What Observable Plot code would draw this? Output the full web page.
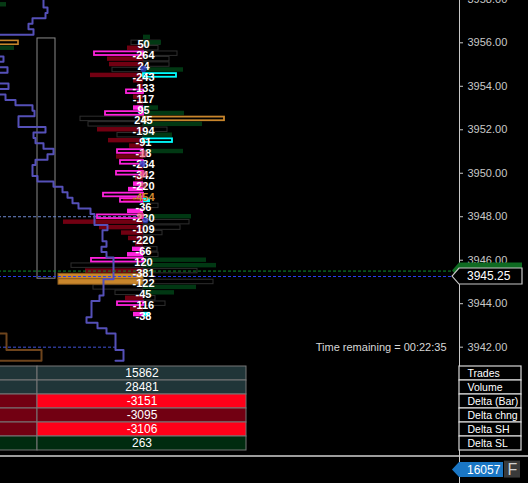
<!DOCTYPE html>
<html><head><meta charset="utf-8">
<script src="https://cdn.jsdelivr.net/npm/d3@7"></script>
<script src="https://cdn.jsdelivr.net/npm/@observablehq/plot@0.6"></script>
<style>
html,body{margin:0;padding:0;background:#000;overflow:hidden}
#wrap{position:relative;width:528px;height:483px;overflow:hidden}
#wrap > svg{position:absolute;left:0;top:0}
#wrap > svg.table{top:365px}
g[aria-label="delta labels"] text{letter-spacing:-0.3px}
</style></head><body><div id="wrap"></div>
<script>
// ---------- DATA ----------
// footprint of the current bar: [price level, size]
const sellDelta = [[3955.75,16],[3955.25,36],[3955.0,34],[3954.5,53],[3954.25,10],[3954.0,6],[3953.5,10],[3953.25,6],[3952.0,46],[3951.5,35],[3951.25,14],[3950.75,27],[3950.25,5],[3949.75,8],[3948.75,20],[3947.75,80],[3947.5,44],[3947.25,22],[3947.0,15],[3946.75,8],[3945.5,58],[3944.25,18],[3943.75,13]];
const buyDelta = [[3956.25,7],[3956.0,18],[3954.75,40],[3953.0,15],[3952.75,41],[3952.25,59],[3951.75,29],[3951.0,40],[3948.0,48],[3946.0,63],[3945.75,73],[3944.75,53],[3944.5,31]];
// volume outline per level: [price, bid side, ask side]
const volumeBox = [[3956.0,-12,17],[3955.75,0,15],[3955.5,0,34],[3955.25,0,26],[3955.0,0,26],[3954.75,-31,0],[3952.5,-63,0],[3952.25,-55,0],[3952.0,0,24],[3951.75,-26,0],[3948.5,0,15],[3947.75,0,46],[3947.5,0,37],[3947.25,0,19],[3947.0,0,7],[3946.5,0,14],[3946.25,0,15],[3945.75,-72,0],[3945.5,0,54],[3945.0,0,70],[3944.75,-50,0],[3944.5,-28,0],[3944.25,0,12],[3944.0,0,22]];
// imbalances
const sellImbalance = [[3955.5,49],[3953.75,17],[3952.75,38],[3951.0,26],[3950.5,23],[3950.0,27],[3949.0,40],[3948.75,23],[3948.0,46],[3946.0,52],[3944.0,26]];
const sellImbalanceStrong = [[3953.0,10],[3949.5,10],[3949.25,15],[3948.25,16],[3946.5,11],[3946.25,16],[3943.5,10]];
const buyImbalance = [[3954.5,33],[3951.5,29]];
const buyImbalanceStrong = [[3948.75,7],[3943.5,7]];
const maxVolumeAsk = [[3952.5,81]];
const maxVolumeBid = [[3945.25,85],[3945.0,85]];
// delta labels
const deltaLevels = [3956.0,3955.5,3955.0,3954.5,3954.0,3953.5,3953.0,3952.5,3952.0,3951.5,3951.0,3950.5,3950.0,3949.5,3949.0,3948.5,3948.0,3947.5,3947.0,3946.5,3946.0,3945.5,3945.0,3944.5,3944.0,3943.5];
const deltaValues = [50,-264,24,-243,-133,-117,95,245,-194,-91,-18,-284,-342,-220,-454,-36,-230,-109,-220,-66,120,-381,-122,-45,-116,-38];
const maxDeltaValue = -454;
// large trade bubbles: [price, offset, radius, side]
const bubbles = [[3954.8,0,6,"bid"],[3950.89,0,9,"ask"],[3950.43,-1,6,"bid"],[3949.97,0,8,"ask"],[3949.45,0,5,"ask"],[3948.06,-3,7,"ask"],[3947.83,2,5,"bid"]];
// previous bars: price trace [time offset, price]
const priceTrace = [[-100,3958.0],[-100,3957.625],[-96,3957.625],[-96,3957.375],[-98,3957.375],[-98,3957.125],[-111,3957.125],[-111,3956.875],[-115,3956.875],[-115,3956.625],[-110,3956.625],[-110,3956.375],[-148,3956.375],
[-148,3955.375],[-140,3955.375],[-140,3955.125],[-148,3955.125],[-148,3954.875],[-136,3954.875],[-136,3954.625],[-148,3954.625],[-148,3954.125],[-135,3954.125],[-135,3953.875],[-148,3953.875],[-148,3953.625],[-138,3953.625],[-138,3953.375],[-128,3953.375],[-128,3953.125],[-111,3953.125],[-111,3952.875],[-109,3952.875],[-109,3952.625],[-125,3952.625],[-125,3952.125],[-98,3952.125],[-98,3951.875],[-110,3951.875],[-110,3951.625],[-108,3951.625],[-108,3951.375],[-100,3951.375],[-100,3951.125],[-90,3951.125],[-90,3950.875],[-96,3950.875],[-96,3950.625],[-108,3950.625],[-108,3950.375],[-111,3950.375],[-111,3949.875],[-106,3949.875],[-106,3949.625],[-90,3949.625],[-90,3949.375],[-81,3949.375],[-81,3949.125],[-76,3949.125],[-76,3948.875],[-71,3948.875],[-71,3948.625],[-65,3948.625],[-65,3948.375],[-53,3948.375],[-53,3948.125],[-49,3948.125],[-49,3947.625],[-36,3947.625],[-36,3947.375],[-41,3947.375],[-41,3946.875],[-37,3946.875],[-37,3946.625],[-42,3946.625],[-42,3946.375],[-37,3946.375],[-37,3946.125],[-30,3946.125],[-30,3945.125],[-40,3945.125],[-40,3944.375],[-44,3944.375],[-44,3944.125],[-52,3944.125],[-52,3943.375],[-57,3943.375],[-57,3943.125],[-46,3943.125],[-46,3942.875],[-37,3942.875],[-37,3942.625],[-28,3942.625],[-28,3941.875],[-20,3941.875],[-20,3941.375],[-28,3941.375]];
const prevBuyCells = [[3957.75,-137],[3955.75,-129]];
const prevMaxVolumeCells = [[3956.0,-125]];
const prevVolumeOutline = [[-150,3942.625],[-137,3942.625],[-137,3941.875],[-102,3941.875],[-102,3941.375],[-150,3941.375]];
const prevRange = [{high:3956.2, low:3945.15}];
// reference lines
const pocLine = [3948.0];
const askLine = [3945.5];
const lastLine = [3945.25];
const prevCloseLine = [3942.0];
// axis
const priceTicks = [3958,3956,3954,3952,3950,3948,3946,3944,3942];
const separatorPrice = [3937.0];
const lastPrice = 3945.25, askPrice = 3945.5;
const barVolume = 16057;
const timeRemaining = "Time remaining = 00:22:35";
// statistics table
const statRows = ["Trades","Volume","Delta (Bar)","Delta chng","Delta SH","Delta SL"];
const statCurrent = [15862,28481,-3151,-3095,-3106,263];

// ---------- STYLES / LAYOUT ----------
const statFill = ["#203538","#203538","#ff0019","#720012","#ff0019","#002b0f"];
const statPrevFill = ["#203538","#203538","#720012","#720012","#720012","#002b0f"];
const C = {sell:"#720012", buy:"#013813", mag:"#ff22dd", cyan:"#00ffff", orange:"#c8862c", outline:"#2e2e2e", axis:"#c8c8c8", trace:"#5550b8"};
const L = {axisX:316, tick:4, labelX:324, tagTip:309, tagBody:316, tagRight:379, volRight:360, timeX:303, prevLeft:-106, prevRight:-88, left:-150, tableMid:-106, tableRight:103, boxRight:378, fX1:361, fX2:377};
const xDomain = [-143,385], yDomain = [3935.73,3957.946];
const h = 0.125;
const font = "Liberation Sans, Arial, sans-serif";

const left = (data, o) => Plot.rect(data, {x1: d => -d[1], x2: 0, y1: d => d[0]-h, y2: d => d[0]+h, insetTop:0.5, insetBottom:0.5, ...o});
const right = (data, o) => Plot.rect(data, {x1: 0, x2: d => d[1], y1: d => d[0]-h, y2: d => d[0]+h, insetTop:0.5, insetBottom:0.5, ...o});

function tags(list, halfPx, fontSize) {
  return (index, scales) => {
    const g = d3.create("svg:g");
    for (const t of list) {
      const yc = scales.y(t.price), xt = scales.x(L.tagTip), xb = scales.x(L.tagBody), xr = scales.x(t.right);
      g.append("path").attr("d", `M${xt},${yc}L${xb},${yc-halfPx}H${xr}V${yc+halfPx}H${xb}Z`)
        .attr("fill", t.fill).attr("stroke", t.stroke).attr("stroke-width", 1.2);
      if (t.label) g.append("text").attr("x", scales.x(L.labelX)).attr("y", yc).attr("dy","0.35em")
        .attr("text-anchor","start").attr("fill","#fff").attr("font-size",fontSize).attr("font-family",font).text(t.label);
    }
    return g.node();
  };
}

const labels = deltaLevels.map((p,i) => ({p, v: deltaValues[i]}));

const main = Plot.plot({
  width:528, height:483, margin:0,
  x:{domain:xDomain, axis:null}, y:{domain:yDomain, axis:null},
  style:{background:"#000", fontFamily:font},
  marks:[
    // previous bar remnants
    Plot.rect(prevBuyCells, {x1:L.left, x2:d=>d[1], y1:d=>d[0]-h, y2:d=>d[0]+h, fill:"#063a14", insetTop:0.5, insetBottom:0.5, clip:true}),
    Plot.rect(prevMaxVolumeCells, {x1:L.left, x2:d=>d[1], y1:d=>d[0]-h, y2:d=>d[0]+h, fill:"none", stroke:C.orange, strokeWidth:1.6, insetTop:0.8, insetBottom:0.8, clip:true}),
    Plot.rect(prevRange, {x1:L.prevLeft, x2:L.prevRight, y1:"low", y2:"high", fill:"none", stroke:"#8a8a8a"}),
    Plot.line(prevVolumeOutline, {x:d=>d[0], y:d=>d[1], stroke:"#6e441c", strokeWidth:2, clip:true}),
    Plot.ruleY(pocLine, {x1:L.left, x2:0, stroke:"#6e8ad0", strokeDasharray:"3,2", clip:true}),
    Plot.ruleY(prevCloseLine, {x1:L.left, x2:-28, stroke:"#4052d8", strokeDasharray:"3,2", clip:true}),
    // footprint
    Plot.rect(volumeBox, {x1:d=>d[1], x2:d=>d[2], y1:d=>d[0]-h, y2:d=>d[0]+h, fill:"none", stroke:C.outline, insetTop:0.5, insetBottom:0.5}),
    left(sellDelta, {fill:C.sell}),
    right(buyDelta, {fill:C.buy}),
    left(maxVolumeBid, {fill:C.orange, stroke:"#8e5c1c", insetTop:0, insetBottom:0}),
    left(sellImbalanceStrong, {fill:C.mag}),
    left(sellImbalance, {fill:"none", stroke:C.mag, strokeWidth:1.8, insetTop:0.9, insetBottom:0.9}),
    right(buyImbalance, {fill:"none", stroke:C.cyan, strokeWidth:1.8, insetTop:0.9, insetBottom:0.9}),
    right(buyImbalanceStrong, {fill:C.cyan}),
    right(maxVolumeAsk, {fill:"none", stroke:C.orange, strokeWidth:1.8, insetTop:0.9, insetBottom:0.9}),
    // price trace of previous bars
    Plot.line(priceTrace, {x:d=>d[0], y:d=>d[1], stroke:C.trace, strokeWidth:2, clip:true}),
    Plot.ruleY(askLine, {x1:L.left, x2:L.tagTip, stroke:"#0c8f2c", strokeDasharray:"3,2", clip:true}),
    Plot.ruleY(lastLine, {x1:L.left, x2:L.tagTip, stroke:"#2a3cf0", strokeDasharray:"3,2", clip:true}),
    // delta labels
    Plot.text(labels, {x:0, y:"p", dy:2, text:d=>String(d.v), fill:d=>d.v===maxDeltaValue?"#d08a30":"#ffffff", fontSize:11, fontWeight:"bold", ariaLabel:"delta labels"}),
    Plot.dot(bubbles, {x:d=>d[1], y:d=>d[0], r:d=>d[2], fill:d=>d[3]==="bid"?"#2a3ac0":"#e8506e", fillOpacity:d=>d[3]==="bid"?0.8:0.6, stroke:"none"}),
    // axis
    Plot.ruleX([L.axisX], {stroke:C.axis}),
    Plot.ruleY(priceTicks, {x1:L.axisX, x2:L.axisX+L.tick, stroke:C.axis}),
    Plot.text(priceTicks, {x:L.labelX, y:d=>d, text:d=>d.toFixed(2), textAnchor:"start", fill:C.axis, fontSize:11}),
    Plot.ruleY(separatorPrice, {stroke:"#d0d0d0", strokeWidth:1.5}),
    Plot.text([timeRemaining], {x:L.timeX, y:prevCloseLine[0], text:d=>d, textAnchor:"end", fill:"#d8d8d8", fontSize:11}),
    tags([{price:askPrice, right:L.tagRight, fill:"#0f6b22", stroke:"none"},
          {price:lastPrice, right:L.tagRight, fill:"#000", stroke:"#c8c8c8", label:lastPrice.toFixed(2)}], 8, 12),
    tags([{price:3936.35, right:L.volRight, fill:"#1a76c4", stroke:"none", label:String(barVolume)}], 7.5, 12),
    Plot.rect([0], {x1:L.fX1, x2:L.fX2, y1:3935.98, y2:3936.76, fill:"#3a3a3a"}),
    Plot.text(["F"], {x:(L.fX1+L.fX2)/2, y:3936.37, text:d=>d, fill:"#d0d0d0", fontSize:16})
  ]
});

const rows = statRows.map((r,i) => ({row:r, value:statCurrent[i], fill:statFill[i], prev:statPrevFill[i]}));
const table = Plot.plot({
  width:528, height:86, marginTop:1, marginBottom:1, marginLeft:0, marginRight:0,
  x:{domain:xDomain, axis:null}, y:{domain:statRows, axis:null, padding:0},
  color:{type:"identity"},
  style:{background:"transparent", fontFamily:font},
  marks:[
    Plot.barX(rows, {y:"row", x1:L.left, x2:L.tableMid, fill:"prev", stroke:"#777"}),
    Plot.barX(rows, {y:"row", x1:L.tableMid, x2:L.tableRight, fill:"fill", stroke:"#777"}),
    Plot.text(rows, {y:"row", x:(L.tableMid+L.tableRight)/2, text:d=>String(d.value), fill:"#fff", fontSize:12}),
    Plot.barX(rows, {y:"row", x1:L.axisX, x2:L.boxRight, fill:"#000", stroke:"#d8d8d8", strokeWidth:1.2}),
    Plot.text(rows, {y:"row", x:L.labelX, text:"row", textAnchor:"start", fill:"#fff", fontSize:10.5})
  ]
});
table.classList.add("table");
const wrap = document.getElementById("wrap");
wrap.appendChild(main);
wrap.appendChild(table);
</script></body></html>
